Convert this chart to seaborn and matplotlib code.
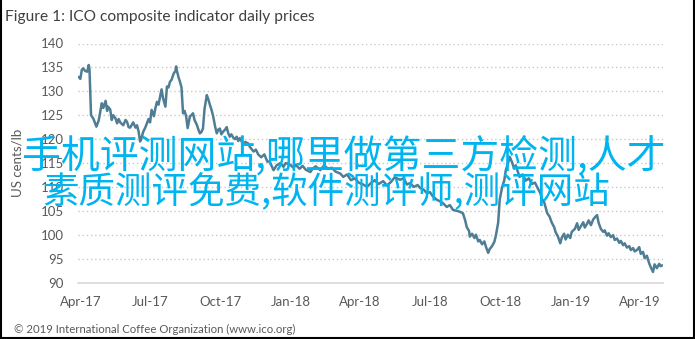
import matplotlib
matplotlib.use("Agg")
import matplotlib.pyplot as plt
from matplotlib.lines import Line2D
import seaborn as sns
import pandas as pd

# ---- data ----
dates = [
    "2017-03-30", "2017-04-01", "2017-04-03", "2017-04-05", "2017-04-07", "2017-04-10",
    "2017-04-12", "2017-04-13", "2017-04-15", "2017-04-18", "2017-04-22", "2017-04-25",
    "2017-04-29", "2017-05-01", "2017-05-04", "2017-05-06", "2017-05-07", "2017-05-10",
    "2017-05-12", "2017-05-14", "2017-05-17", "2017-05-19", "2017-05-21", "2017-05-23",
    "2017-05-27", "2017-05-30", "2017-06-01", "2017-06-03", "2017-06-05", "2017-06-09",
    "2017-06-12", "2017-06-14", "2017-06-16", "2017-06-18", "2017-06-20", "2017-06-22",
    "2017-06-25", "2017-06-29", "2017-07-01", "2017-07-03", "2017-07-06", "2017-07-08",
    "2017-07-10", "2017-07-12", "2017-07-14", "2017-07-16", "2017-07-18", "2017-07-21",
    "2017-07-23", "2017-07-25", "2017-07-27", "2017-07-29", "2017-08-01", "2017-08-03",
    "2017-08-04", "2017-08-05", "2017-08-07", "2017-08-09", "2017-08-11", "2017-08-13",
    "2017-08-15", "2017-08-17", "2017-08-19", "2017-08-22", "2017-08-24", "2017-08-26",
    "2017-08-28", "2017-08-31", "2017-09-02", "2017-09-04", "2017-09-06", "2017-09-08",
    "2017-09-10", "2017-09-13", "2017-09-15", "2017-09-17", "2017-09-19", "2017-09-21",
    "2017-09-24", "2017-09-26", "2017-09-28", "2017-09-30", "2017-10-02", "2017-10-04",
    "2017-10-07", "2017-10-09", "2017-10-11", "2017-10-13", "2017-10-15", "2017-10-18",
    "2017-10-20", "2017-10-22", "2017-10-24", "2017-10-26", "2017-10-31", "2017-11-02",
    "2017-11-06", "2017-11-08", "2017-11-13", "2017-11-16", "2017-11-19", "2017-11-23",
    "2017-11-27", "2017-12-01", "2017-12-04", "2017-12-09", "2017-12-13", "2017-12-18",
    "2017-12-22", "2017-12-25", "2017-12-31", "2018-01-04", "2018-01-07", "2018-01-12",
    "2018-01-16", "2018-01-20", "2018-01-26", "2018-01-29", "2018-02-02", "2018-02-08",
    "2018-02-13", "2018-02-18", "2018-02-23", "2018-02-28", "2018-03-06", "2018-03-10",
    "2018-03-15", "2018-03-20", "2018-03-25", "2018-03-30", "2018-04-05", "2018-04-10",
    "2018-04-15", "2018-04-20", "2018-04-25", "2018-05-01", "2018-05-06", "2018-05-11",
    "2018-05-16", "2018-05-23", "2018-05-28", "2018-06-01", "2018-06-05", "2018-06-10",
    "2018-06-15", "2018-06-18", "2018-06-23", "2018-06-27", "2018-07-01", "2018-07-05",
    "2018-07-10", "2018-07-14", "2018-07-18", "2018-07-23", "2018-07-27", "2018-07-31",
    "2018-08-05", "2018-08-09", "2018-08-13", "2018-08-16", "2018-08-18", "2018-08-21",
    "2018-08-22", "2018-08-25", "2018-08-28", "2018-08-30", "2018-09-02", "2018-09-04",
    "2018-09-07", "2018-09-10", "2018-09-12", "2018-09-15", "2018-09-17", "2018-09-20",
    "2018-09-23", "2018-09-25", "2018-09-28", "2018-09-30", "2018-10-03", "2018-10-06",
    "2018-10-08", "2018-10-11", "2018-10-13", "2018-10-16", "2018-10-19", "2018-10-21",
    "2018-10-24", "2018-10-26", "2018-10-30", "2018-11-03", "2018-11-07", "2018-11-11",
    "2018-11-15", "2018-11-19", "2018-11-22", "2018-11-24", "2018-11-27", "2018-12-01",
    "2018-12-04", "2018-12-07", "2018-12-10", "2018-12-12", "2018-12-15", "2018-12-18",
    "2018-12-20", "2018-12-23", "2018-12-25", "2018-12-28", "2018-12-31", "2019-01-02",
    "2019-01-06", "2019-01-09", "2019-01-11", "2019-01-14", "2019-01-17", "2019-01-19",
    "2019-01-22", "2019-01-24", "2019-01-27", "2019-01-30", "2019-02-01", "2019-02-04",
    "2019-02-06", "2019-02-09", "2019-02-12", "2019-02-14", "2019-02-17", "2019-02-19",
    "2019-02-22", "2019-02-25", "2019-02-27", "2019-03-02", "2019-03-05", "2019-03-07",
    "2019-03-10", "2019-03-12", "2019-03-15", "2019-03-18", "2019-03-20", "2019-03-23",
    "2019-03-25", "2019-03-28", "2019-03-31", "2019-04-02", "2019-04-05", "2019-04-07",
    "2019-04-10", "2019-04-13", "2019-04-15", "2019-04-18", "2019-04-20", "2019-04-23",
    "2019-04-26", "2019-04-28", "2019-04-30",
]
prices = [
    133.0, 132.6, 134.5, 134.8, 134.3, 134.1,
    135.5, 134.6, 125.0, 124.3, 122.6, 123.9,
    127.5, 126.5, 128.0, 125.9, 126.8, 126.2,
    124.0, 125.0, 124.3, 123.3, 124.2, 123.5,
    122.9, 124.0, 123.6, 122.5, 122.4, 123.5,
    122.4, 122.9, 121.6, 119.5, 120.3, 121.5,
    122.5, 124.2, 123.5, 126.1, 124.8, 126.5,
    127.8, 127.2, 128.8, 130.4, 128.5, 126.8,
    131.0, 130.8, 132.0, 132.4, 133.8, 134.2,
    135.2, 134.3, 133.0, 132.0, 130.8, 125.4,
    125.9, 124.8, 122.3, 124.8, 125.0, 125.4,
    124.0, 123.0, 122.0, 121.2, 121.5, 122.2,
    126.3, 129.2, 128.3, 127.2, 126.2, 125.0,
    122.5, 121.2, 122.0, 122.2, 121.0, 121.5,
    122.0, 122.5, 121.2, 120.5, 121.0, 120.2,
    120.0, 120.5, 119.6, 120.2, 118.8, 119.4,
    119.1, 118.4, 117.4, 117.8, 116.8, 116.2,
    116.8, 115.3, 115.3, 113.5, 114.5, 115.0,
    114.2, 115.0, 114.6, 114.0, 114.6, 113.8,
    114.4, 113.6, 113.1, 113.8, 114.3, 113.5,
    114.5, 113.8, 114.0, 113.2, 112.8, 112.1,
    112.6, 111.4, 111.8, 110.9, 110.5, 110.0,
    110.8, 111.4, 110.6, 111.2, 110.3, 111.0,
    112.0, 111.5, 111.8, 110.5, 110.8, 110.0,
    110.4, 109.8, 109.4, 108.7, 108.9, 108.0,
    107.3, 107.0, 106.6, 105.8, 106.2, 105.2,
    105.0, 104.8, 104.5, 103.0, 101.6, 100.8,
    99.6, 100.2, 99.3, 100.0, 98.6, 98.9,
    98.0, 98.6, 97.5, 96.2, 97.0, 97.6,
    98.5, 99.8, 102.5, 107.3, 109.8, 111.4,
    113.5, 115.0, 116.3, 115.2, 113.8, 114.5,
    113.0, 112.1, 112.6, 111.3, 111.8, 110.6,
    110.9, 109.6, 108.7, 107.5, 106.8, 104.5,
    103.8, 102.5, 101.6, 100.5, 99.6, 98.2,
    99.4, 100.2, 99.0, 100.0, 99.3, 100.6,
    101.2, 102.4, 101.0, 101.8, 102.6, 101.5,
    102.3, 103.0, 102.0, 103.2, 103.6, 104.1,
    102.5, 101.2, 100.6, 100.9, 99.8, 100.3,
    99.5, 99.9, 98.9, 99.2, 98.3, 98.7,
    97.8, 98.2, 97.3, 97.6, 96.8, 97.2,
    96.5, 96.8, 97.4, 96.0, 96.4, 95.1,
    95.6, 94.0, 93.2, 92.2, 93.8, 93.0,
    93.9, 93.4, 93.6,
]
tick_dates = ["2017-04-01", "2017-07-01", "2017-10-01", "2018-01-01", "2018-04-01",
              "2018-07-01", "2018-10-01", "2019-01-01", "2019-04-01"]
tick_labels = ["Apr-17", "Jul-17", "Oct-17", "Jan-18", "Apr-18",
               "Jul-18", "Oct-18", "Jan-19", "Apr-19"]
y_ticks = [90, 95, 100, 105, 110, 115, 120, 125, 130, 135, 140]

title = "Figure 1: ICO composite indicator daily prices"
y_label = "US cents/lb"
source = "\u00a9 2019 International Coffee Organization (www.ico.org)"
overlay_1 = "手机评测网站,哪里做第三方检测,人才"
overlay_2 = "素质测评免费,软件测评师,测评网站"

# ---- plot ----
sns.set_theme(style="white")
plt.rcParams["font.family"] = ["Lato", "DejaVu Sans"]

df = pd.DataFrame({"date": pd.to_datetime(dates), "price": prices})

W, H = 695, 339
fig = plt.figure(figsize=(W / 100, H / 100), dpi=100)
fig.patch.set_facecolor("white")
ax = fig.add_axes([78 / W, 1 - 282.5 / H, (663 - 78) / W, (282.5 - 43.5) / H])
ax.set_facecolor("white")

sns.lineplot(data=df, x="date", y="price", ax=ax, color="#4F7D94", linewidth=1.8)

ax.set_xlim(pd.Timestamp("2017-03-29"), pd.Timestamp("2019-05-01"))
ax.set_ylim(90, 140)
ax.set_yticks(y_ticks)
ax.set_yticklabels([str(v) for v in y_ticks])
ax.set_xticks(pd.to_datetime(tick_dates))
ax.set_xticklabels(tick_labels)

gray = "#595959"
ax.tick_params(axis="both", length=0, labelsize=9.5, colors=gray)
ax.tick_params(axis="y", pad=10)
ax.tick_params(axis="x", pad=10)
ax.set_xlabel("")
ax.set_ylabel(y_label, fontsize=9.5, color=gray)
ax.yaxis.set_label_coords(-0.093, 0.5)

ax.grid(axis="y", linestyle=(0, (1, 2)), color="#C8C8C8", linewidth=1.0)
ax.grid(axis="x", visible=False)
for side in ["top", "left", "right"]:
    ax.spines[side].set_visible(False)
ax.spines["bottom"].set_color("#D9D9D9")
ax.spines["bottom"].set_linewidth(1.2)
ax.spines["bottom"].set_zorder(0.5)

fig.text(5 / W, 1 - 16.5 / H, title, fontsize=11.2, color="#404040", ha="left", va="center")
fig.text(14 / W, 1 - 329 / H, source, fontsize=8.2, color=gray, ha="left", va="center")

wm_font = ["Noto Sans CJK SC", "DejaVu Sans"]
fig.text(22 / W, 1 - 156 / H, overlay_1, fontsize=28, color="#00B4EF", fontweight=500,
         family=wm_font, ha="left", va="center", zorder=10)
fig.text(42 / W, 1 - 192 / H, overlay_2, fontsize=26.3, color="#00B4EF", fontweight=500,
         family=wm_font, ha="left", va="center", zorder=10)

# outer frame (left, right, bottom)
for xs, ys in [([0.5 / W, 0.5 / W], [0, 1]), ([1 - 1.5 / W, 1 - 1.5 / W], [0, 1]),
               ([0, 1], [1.5 / H, 1.5 / H])]:
    fig.add_artist(Line2D(xs, ys, transform=fig.transFigure, color="black", linewidth=1.5))

fig.savefig("out.png", dpi=100, facecolor="white")
